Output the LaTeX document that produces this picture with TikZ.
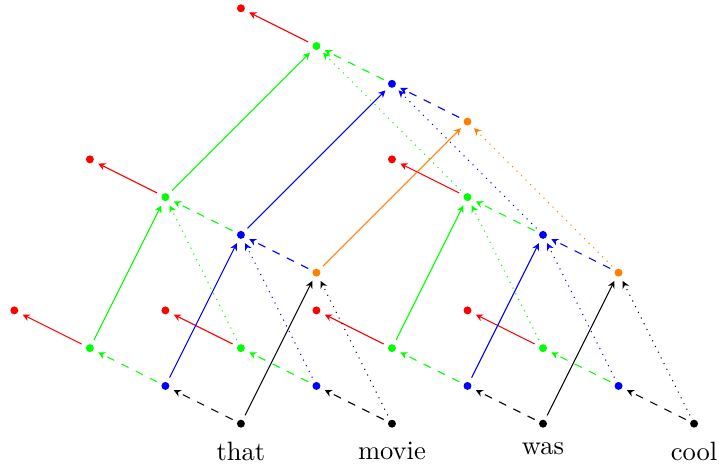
\documentclass[tikz,border=0pt]{standalone}
\usepackage{tikz}
\usetikzlibrary{arrows.meta,positioning}
\tikzset{
  dot/.style={circle,fill=#1,inner sep=0pt,minimum size=3pt,outer sep=2pt},
  edge/.style={-{Stealth[length=2.7pt,width=2.7pt]},line width=0.4pt},
  word/.style={inner sep=0.333em},
}

\begin{document}
\begin{tikzpicture}[x=1cm,y=0.5cm]
\useasboundingbox (-3.19,-1.14) rectangle (6.33,11.22);
% one cell: head, blue, green, red going up-left
\foreach \n/\x/\y/\c/\d in {1/0/0/black/black,2/2/0/black/black,3/4/0/black/black,4/6/0/black/black,
                            5/1/4/orange/blue,6/5/4/orange/blue,7/3/8/orange/blue} {
  \node[dot=\c] (h\n) at (\x,\y) {};
  \node[dot=blue] (b\n) at (\x-1,\y+1) {};
  \node[dot=green] (g\n) at (\x-2,\y+2) {};
  \node[dot=red] (r\n) at (\x-3,\y+3) {};
  \draw[edge,dashed,\d] (h\n) -- (b\n);
  \draw[edge,dashed,green] (b\n) -- (g\n);
  \draw[edge,red] (g\n) -- (r\n);
}
% merge two cells into the one above
\foreach \l/\r/\p/\c in {1/2/5/black,3/4/6/black,5/6/7/orange} {
  \draw[edge,\c] (h\l) -- (h\p);
  \draw[edge,\c,dotted] (h\r) -- (h\p);
  \draw[edge,blue] (b\l) -- (b\p);
  \draw[edge,blue,dotted] (b\r) -- (b\p);
  \draw[edge,green] (g\l) -- (g\p);
  \draw[edge,green,dotted] (g\r) -- (g\p);
}
\foreach \n/\w in {1/that,2/movie,3/was,4/cool}
  \node[word,below=0pt of h\n] (w\n) {\w};
\end{tikzpicture}
\end{document}
